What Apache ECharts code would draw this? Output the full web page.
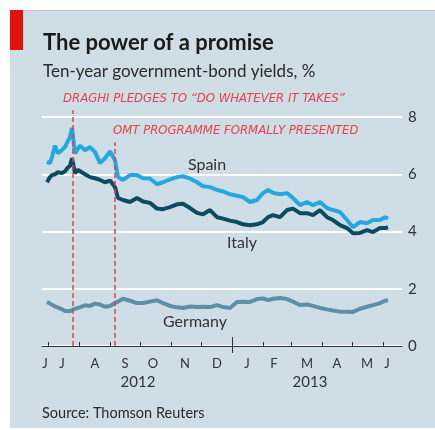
<!DOCTYPE html>
<html><head><meta charset="utf-8">
<script src="https://cdn.jsdelivr.net/npm/echarts@6/dist/echarts.min.js"></script>
<style>
html,body{margin:0;padding:0;background:#fff;}
#panel{position:absolute;left:10px;top:10px;width:425px;height:418px;background:#cfdde6;border-top:1px solid #b7c4cc;box-sizing:border-box;}
#chart{position:absolute;left:0;top:0;width:435px;height:430px;}
</style></head><body>
<div id="panel"></div><div id="chart"></div>
<script>
// ---- data ----
const sampleDates = ['2012-06-30','2012-07-03','2012-07-05','2012-07-08','2012-07-11','2012-07-15','2012-07-18','2012-07-20','2012-07-23','2012-07-25','2012-07-28','2012-07-31','2012-08-02','2012-08-07','2012-08-12','2012-08-17','2012-08-22','2012-08-27','2012-09-01','2012-09-03','2012-09-06','2012-09-09','2012-09-14','2012-09-21','2012-09-28','2012-10-04','2012-10-11','2012-10-18','2012-10-24','2012-10-31','2012-11-07','2012-11-13','2012-11-20','2012-11-27','2012-12-03','2012-12-10','2012-12-17','2012-12-23','2012-12-30','2013-01-06','2013-01-12','2013-01-19','2013-01-26','2013-02-01','2013-02-06','2013-02-11','2013-02-18','2013-02-25','2013-03-03','2013-03-10','2013-03-17','2013-03-23','2013-03-30','2013-04-06','2013-04-12','2013-04-19','2013-04-26','2013-05-02','2013-05-09','2013-05-16','2013-05-22','2013-05-29','2013-06-03','2013-06-06'];
const spain = [6.43,6.39,6.6,7.0,6.73,6.85,6.95,7.1,7.3,7.62,6.73,6.9,7.0,6.84,6.95,6.77,6.39,6.56,6.8,6.84,6.49,5.9,5.8,5.97,5.97,5.86,5.85,5.65,5.72,5.82,5.9,5.93,5.85,5.72,5.58,5.55,5.45,5.4,5.3,5.25,5.2,5.03,5.1,5.34,5.45,5.35,5.3,5.34,5.17,4.92,5.03,4.92,5.03,4.82,4.75,4.68,4.4,4.15,4.33,4.29,4.4,4.4,4.5,4.45];
const italy = [5.72,5.9,5.97,6.0,6.07,6.04,6.1,6.2,6.3,6.56,6.04,6.15,6.2,6.0,5.9,5.86,5.8,5.72,5.78,5.8,5.55,5.17,5.1,5.03,5.17,5.05,5.0,4.8,4.78,4.85,4.95,4.97,4.82,4.65,4.6,4.75,4.5,4.45,4.38,4.33,4.25,4.22,4.25,4.33,4.5,4.57,4.5,4.75,4.8,4.64,4.64,4.57,4.75,4.5,4.4,4.22,4.12,3.94,3.95,4.05,3.98,4.12,4.12,4.15];
const germany = [1.54,1.48,1.43,1.38,1.34,1.28,1.22,1.19,1.22,1.28,1.3,1.33,1.36,1.42,1.4,1.48,1.45,1.37,1.4,1.42,1.5,1.55,1.65,1.58,1.5,1.5,1.55,1.6,1.5,1.4,1.35,1.33,1.38,1.36,1.37,1.36,1.43,1.36,1.33,1.54,1.55,1.54,1.64,1.66,1.6,1.65,1.68,1.64,1.55,1.43,1.45,1.4,1.33,1.28,1.24,1.2,1.2,1.19,1.3,1.37,1.43,1.5,1.58,1.6];

const monthLabels = [['2012-06-28','J'],['2012-07-15','J'],['2012-08-17','A'],['2012-09-16','S'],['2012-10-14','O'],['2012-11-15','N'],['2012-12-17','D'],['2013-01-16','J'],['2013-02-12','F'],['2013-03-17','M'],['2013-04-16','A'],['2013-05-16','M'],['2013-06-05','J']];
const yearLabels = [['2012-09-29','2012'],['2013-03-20','2013']];
const yearBoundary = '2013-01-01';
const events = [
  {date:'2012-07-26', top:8.24, text:'DRAGHI PLEDGES TO \u201cDO WHATEVER IT TAKES\u201d'},
  {date:'2012-09-06', top:7.12, text:'OMT PROGRAMME FORMALLY PRESENTED'}
];
const axisStart = '2012-06-25', axisEnd = '2013-06-20';
const yMax = 8, yStep = 2;

// ---- daily category axis ----
const days = [];
for (let t = Date.parse(axisStart + 'T00:00:00Z'); t <= Date.parse(axisEnd + 'T00:00:00Z'); t += 86400000) {
  days.push(new Date(t).toISOString().slice(0,10));
}
const monthMap = Object.fromEntries(monthLabels);
const yearMap = Object.fromEntries(yearLabels);
const pair = arr => sampleDates.map((d,i)=>[d, arr[i]]);

const chart = echarts.init(document.getElementById('chart'), null, {renderer:'canvas'});
const font = "'Lato','Open Sans',sans-serif";
const annFont = "'Liberation Sans Narrow','DejaVu Sans Condensed','Roboto',sans-serif";
const textCol = '#333';

// main grid and a taller twin grid (same scale) that carries the event rules
const G = {left:42, right:33, top:117, bottom:84};
const G2top = 100;
const plotH = 430 - G.top - G.bottom;
const y2Max = yMax * (430 - G2top - G.bottom) / plotH;

const baseX = {type:'category', data:days, boundaryGap:false, position:'bottom', gridIndex:0};
chart.setOption({
  animation:false,
  backgroundColor:'transparent',
  grid:[G, {left:G.left, right:G.right, top:G2top, bottom:G.bottom}],
  xAxis:[
    Object.assign({}, baseX, {
      axisLine:{show:true, lineStyle:{color:'#333', width:1}},
      axisTick:{show:true, inside:true, length:4, lineStyle:{color:'#333'},
        interval:(i,v)=>v.slice(8)==='01' && v!==yearBoundary},
      axisLabel:{show:true, interval:(i,v)=>v in monthMap, formatter:v=>monthMap[v]||'',
        color:textCol, fontSize:13, fontFamily:font, margin:11},
      splitLine:{show:false}
    }),
    Object.assign({}, baseX, {
      axisLine:{show:false},
      axisTick:{show:true, inside:false, length:7, lineStyle:{color:'#333'}, interval:(i,v)=>v===yearBoundary},
      axisLabel:{show:true, interval:(i,v)=>v in yearMap, formatter:v=>yearMap[v]||'',
        color:textCol, fontSize:15, fontFamily:font, margin:29},
      splitLine:{show:false}
    }),
    Object.assign({}, baseX, {
      axisLine:{show:false},
      axisTick:{show:true, inside:true, length:9, lineStyle:{color:'#333'}, interval:(i,v)=>v===yearBoundary},
      axisLabel:{show:false}, splitLine:{show:false}
    }),
    Object.assign({}, baseX, {gridIndex:1, show:false})
  ],
  yAxis:[
    {type:'value', position:'right', min:0, max:yMax, interval:yStep,
      axisLine:{show:false}, axisTick:{show:false},
      axisLabel:{color:textCol, fontSize:15, fontFamily:font, margin:6},
      splitLine:{show:true, lineStyle:{color:'#ffffff', width:2}}
    },
    {type:'value', gridIndex:1, min:0, max:y2Max, show:false, splitLine:{show:false}}
  ],
  series:[
    {name:'events', type:'line', xAxisIndex:3, yAxisIndex:1, data:[], silent:true, clip:false,
      markLine:{silent:true, symbol:['none','none'], label:{show:false}, animation:false,
        lineStyle:{color:'#e8404a', type:[5,3], width:1.5},
        data: events.map(e=>[{coord:[e.date,0]},{coord:[e.date,e.top]}])}
    },
    {name:'Germany', type:'line', data:pair(germany), showSymbol:false, connectNulls:true,
      lineStyle:{color:'#5b90a6', width:4}, z:3},
    {name:'Spain', type:'line', data:pair(spain), showSymbol:false, connectNulls:true,
      lineStyle:{color:'#25a8df', width:4}, z:3},
    {name:'Italy', type:'line', data:pair(italy), showSymbol:false, connectNulls:true,
      lineStyle:{color:'#0d4b60', width:4}, z:4}
  ],
  graphic:[
    {type:'rect', shape:{x:10, y:10, width:13, height:40}, style:{fill:'#e3120b'}},
    {type:'text', left:43, top:32, style:{text:'The power of a promise', font:"bold 22px 'Lato', sans-serif", fill:'#1a1a1a'}},
    {type:'text', left:43, top:63, style:{text:'Ten-year government-bond yields, %', font:"17px 'Lato', sans-serif", fill:'#2a2a2a'}},
    {type:'text', left:42, top:406, style:{text:'Source: Thomson Reuters', font:"14.5px 'Lato', sans-serif", fill:'#2a2a2a'}},
    {type:'text', left:63, top:92, style:{text:events[0].text, font:"italic 13px " + annFont, fill:'#e8404a'}},
    {type:'text', left:113, top:124, style:{text:events[1].text, font:"italic 13px " + annFont, fill:'#e8404a'}},
    {type:'text', x:207, y:165, style:{text:'Spain', font:"16px 'Lato', sans-serif", fill:'#333', align:'center', verticalAlign:'middle'}},
    {type:'text', x:242, y:243, style:{text:'Italy', font:"16px 'Lato', sans-serif", fill:'#333', align:'center', verticalAlign:'middle'}},
    {type:'text', x:195, y:322, style:{text:'Germany', font:"16px 'Lato', sans-serif", fill:'#333', align:'center', verticalAlign:'middle'}}
  ]
});
</script>
</body></html>
